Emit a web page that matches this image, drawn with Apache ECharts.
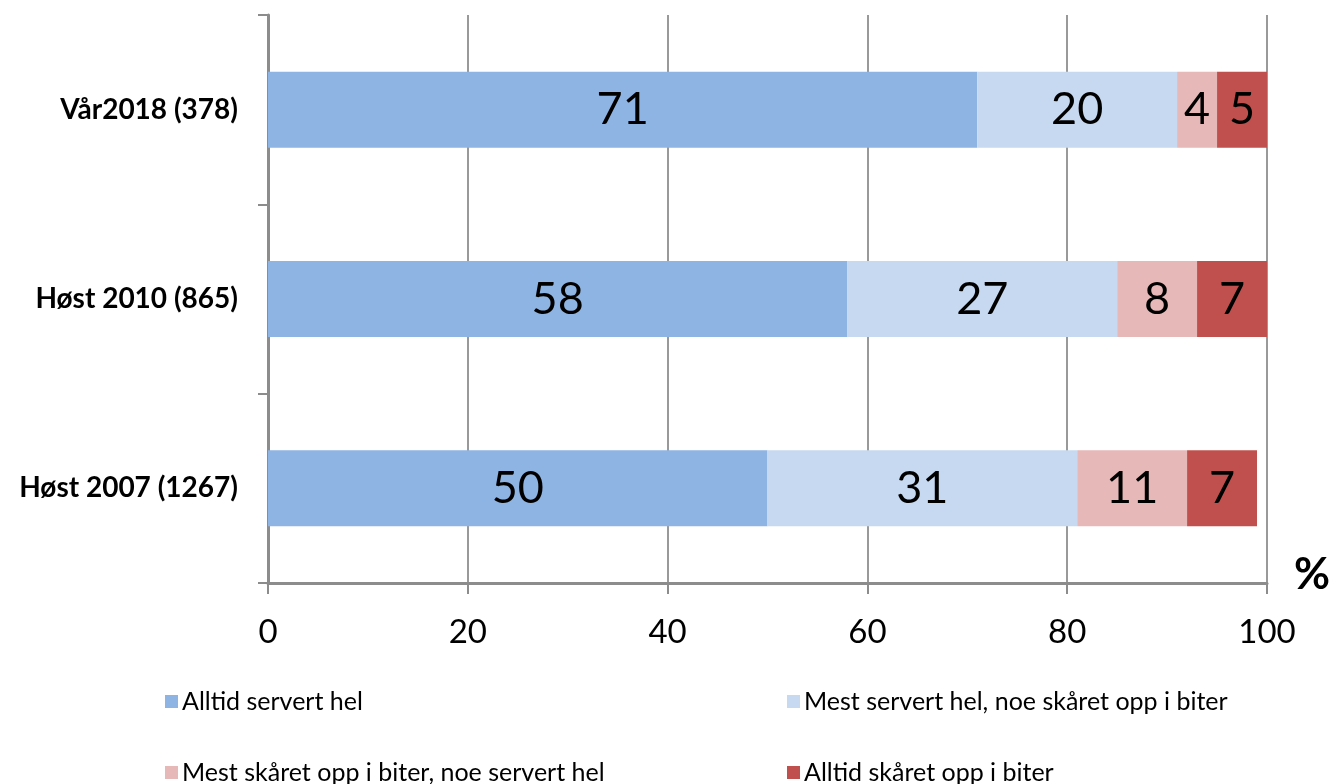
<!DOCTYPE html>
<html><head><meta charset="utf-8">
<script src="https://cdn.jsdelivr.net/npm/echarts@6/dist/echarts.min.js"></script>
<style>html,body{margin:0;padding:0;background:#fff}#c{width:1332px;height:784px}</style>
</head><body><div id="c"></div>
<script>
const categories = ['Vår2018 (378)', 'Høst 2010 (865)', 'Høst 2007 (1267)'];
const seriesNames = ['Alltid servert hel', 'Mest servert hel, noe skåret opp i biter', 'Mest skåret opp i biter, noe servert hel', 'Alltid skåret opp i biter'];
const alltidHel = [71, 58, 50];
const mestHel = [20, 27, 31];
const mestBiter = [4, 8, 11];
const alltidBiter = [5, 7, 7];
const colors = ['#8EB4E3', '#C6D9F1', '#E6B9B8', '#C0504D'];
const values = [alltidHel, mestHel, mestBiter, alltidBiter];
const font = 'Lato, "Open Sans", sans-serif';

const chart = echarts.init(document.getElementById('c'));
const legendPos = [[165, 689], [787, 689], [165, 760], [787, 760]];
chart.setOption({
  animation: false,
  color: colors,
  textStyle: { fontFamily: font },
  grid: { left: 268, right: 65, top: 15, bottom: 201, containLabel: false },
  legend: seriesNames.map((n, i) => ({
    data: [n], left: legendPos[i][0], top: legendPos[i][1], padding: 0,
    itemWidth: 13, itemHeight: 13, itemGap: 4, icon: 'rect',
    textStyle: { fontSize: 25, color: '#000', fontFamily: font, padding: [0, 0, 0, -1] }
  })),
  xAxis: {
    type: 'value', min: 0, max: 100, interval: 20,
    axisLine: { show: true, lineStyle: { color: '#8c8c8c', width: 3 } },
    axisTick: { show: true, length: 11, lineStyle: { color: '#8c8c8c', width: 2 } },
    splitLine: { show: true, lineStyle: { color: '#999', width: 2 } },
    axisLabel: { fontSize: 33, color: '#000', margin: 33, fontFamily: font }
  },
  yAxis: {
    type: 'category', data: categories, inverse: true,
    axisLine: { show: true, lineStyle: { color: '#8c8c8c', width: 3 } },
    axisTick: { show: true, length: 10, lineStyle: { color: '#8c8c8c', width: 2 } },
    axisLabel: { fontSize: 28, fontWeight: 'bold', color: '#000', margin: 30, fontFamily: font }
  },
  graphic: [{ type: 'text', left: 1294, top: 553, style: { text: '%', fontSize: 44, fontWeight: 'bold', fill: '#000', fontFamily: font } }],
  series: seriesNames.map((n, i) => ({
    name: n, type: 'bar', stack: 'total', barWidth: 76,
    data: values[i],
    itemStyle: { color: colors[i] },
    label: { show: true, position: 'inside', fontSize: 45, color: '#000', fontFamily: font }
  }))
});
</script></body></html>
